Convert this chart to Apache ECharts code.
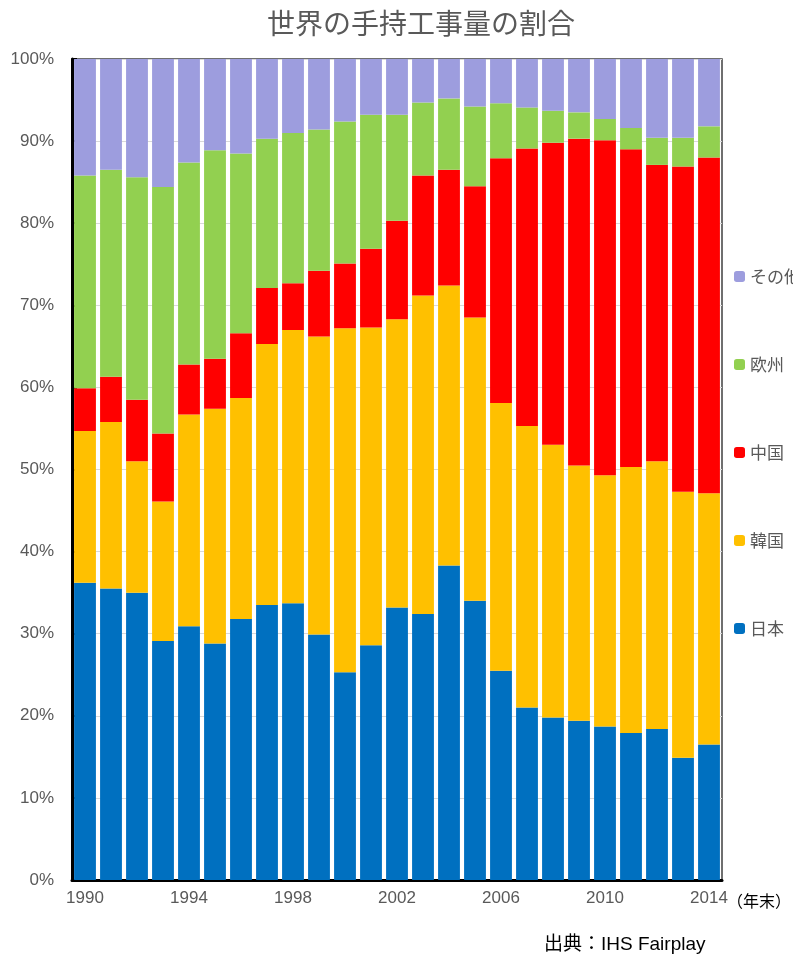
<!DOCTYPE html>
<html>
<head>
<meta charset="utf-8">
<script src="https://cdn.jsdelivr.net/npm/echarts@6/dist/echarts.min.js"></script>
<style>
  html, body { margin: 0; padding: 0; background: #fff; }
  #main { width: 793px; height: 962px; }
</style>
</head>
<body>
<div id="main"></div>
<script>
var years = ['1990','1991','1992','1993','1994','1995','1996','1997','1998','1999','2000','2001','2002',
             '2003','2004','2005','2006','2007','2008','2009','2010','2011','2012','2013','2014'];

// shares in %
var japan  = [36.2,35.5,35.0,29.1,30.9,28.8,31.8,33.5,33.7,29.9,25.3,28.6,33.2,32.4,38.3,34.0,25.5,21.0,19.8,19.4,18.7,17.9,18.4,14.9,16.5];
var korea  = [18.5,20.3,16.0,17.0,25.8,28.6,26.9,31.8,33.3,36.3,41.9,38.7,35.1,38.8,34.1,34.5,32.6,34.3,33.2,31.1,30.6,32.4,32.6,32.4,30.6];
var china  = [5.2,5.5,7.5,8.3,6.1,6.1,7.9,6.8,5.7,8.0,7.9,9.6,12.0,14.6,14.1,16.0,29.8,33.8,36.8,39.8,40.8,38.7,36.1,39.6,40.9];
var europe = [25.9,25.2,27.1,30.0,24.6,25.4,21.9,18.2,18.3,17.2,17.3,16.3,12.9,8.9,8.7,9.7,6.7,5.0,3.9,3.2,2.6,2.6,3.3,3.5,3.8];
var others = [14.2,13.5,14.4,15.6,12.6,11.1,11.5,9.7,9.0,8.6,7.6,6.8,6.8,5.3,4.8,5.8,5.4,5.9,6.3,6.5,7.3,8.4,9.6,9.6,8.2];

var names  = ['日本','韓国','中国','欧州','その他'];
var colors = ['#0070C0','#FFC000','#FF0000','#92D050','#9D9DDE'];
var values = [japan, korea, china, europe, others];

var font = 'Liberation Sans, Arial, Noto Sans CJK JP, sans-serif';
var myChart = echarts.init(document.getElementById('main'));

var series = [];
for (var i = 0; i < names.length; i++) {
	series.push({
		name: names[i],
		type: 'bar',
		stack: 'all',
		data: values[i],
		barCategoryGap: '16%',
		itemStyle: { color: colors[i] }
	});
}

option = {
	animation: false,
	textStyle: { fontFamily: font },
	title: {
		text: '世界の手持工事量の割合',
		left: 262,
		top: 4,
		textStyle: { fontFamily: 'Noto Sans CJK JP', fontSize: 28, fontWeight: 'normal', color: '#595959' }
	},
	color: colors,
	legend: {
		orient: 'vertical',
		left: 729,
		top: 263,
		itemWidth: 11,
		itemHeight: 11,
		itemGap: 71,
		data: ['その他','欧州','中国','韓国','日本'],
		textStyle: { fontFamily: 'Noto Sans CJK JP', fontSize: 17, color: '#595959' }
	},
	grid: {
		left: 72, right: 71, top: 59, bottom: 82,
		show: true,
		borderColor: '#404040',
		borderWidth: 1.5
	},
	xAxis: {
		type: 'category',
		data: years,
		axisLine: { lineStyle: { color: '#000', width: 3 } },
		axisTick: { show: false },
		axisLabel: { interval: 3, color: '#595959', fontSize: 17, margin: 10, fontFamily: font }
	},
	yAxis: {
		type: 'value',
		min: 0, max: 100, interval: 10,
		axisLine: { show: true, lineStyle: { color: '#000', width: 3 } },
		axisTick: { show: true, inside: true, length: 5, lineStyle: { color: '#000', width: 2 } },
		splitLine: { lineStyle: { color: '#D9D9D9' } },
		axisLabel: { formatter: '{value}%', color: '#595959', fontSize: 17, margin: 18, fontFamily: font }
	},
	graphic: [
		{ type: 'text', left: 727, top: 893, style: { text: '（年末）', fontFamily: 'Noto Sans CJK JP', fontSize: 16, fill: '#000' } },
		{ type: 'text', left: 544, top: 935, style: { text: '出典：IHS Fairplay', fontFamily: 'Liberation Sans, Noto Sans CJK JP', fontSize: 19, fill: '#000' } }
	],
	series: series
};

myChart.setOption(option);
</script>
</body>
</html>
